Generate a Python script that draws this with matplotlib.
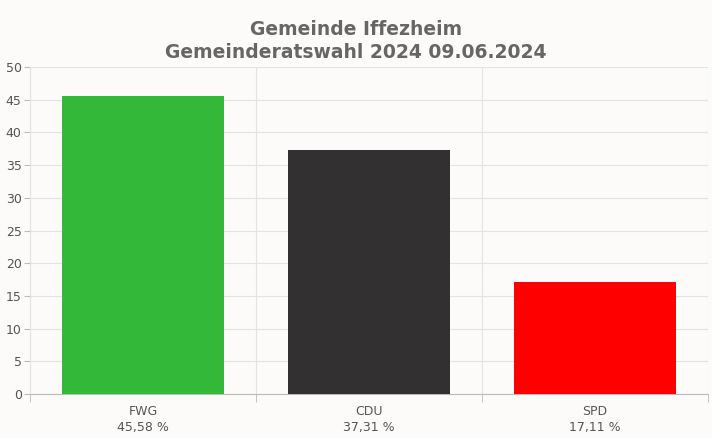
import matplotlib
matplotlib.use("Agg")
import matplotlib.pyplot as plt
import numpy as np

parties = ["FWG", "CDU", "SPD"]
values = [45.58, 37.31, 17.11]
colors = ["#33b83a", "#323030", "#ff0000"]
labels = ["FWG\n45,58 %", "CDU\n37,31 %", "SPD\n17,11 %"]

bg = "#fcfbfa"
fig = plt.figure(figsize=(7.12, 4.38), dpi=100, facecolor=bg)
ax = fig.add_axes([30/712, 44/438, 678/712, 327/438], facecolor=bg)
x = np.arange(len(parties))
ax.bar(x, values, width=0.72, color=colors, zorder=3)
ax.set_xlim(-0.5, 2.5)
ax.set_ylim(0, 50)
ax.set_yticks(range(0, 51, 5))
ax.set_xticks(x)
ax.set_xticklabels(labels, fontsize=9, color="#555555", linespacing=1.3)
ax.set_xticks([-0.5, 0.5, 1.5, 2.5], minor=True)
ax.tick_params(axis="x", which="major", length=0, pad=8)
ax.tick_params(axis="x", which="minor", length=6, color="#bbbbbb")
ax.tick_params(axis="y", length=4, color="#bbbbbb", labelsize=9, labelcolor="#555555", pad=2)
ax.grid(axis="y", color="#e3e3e3", lw=0.8, zorder=0)
ax.grid(axis="x", which="minor", color="#e3e3e3", lw=0.8, zorder=0)
for s in ["top", "right"]:
    ax.spines[s].set_visible(False)
ax.spines["left"].set_color("#e3e3e3")
ax.spines["bottom"].set_color("#bbbbbb")
fig.text(0.5, 0.955, "Gemeinde Iffezheim\nGemeinderatswahl 2024 09.06.2024", ha="center", va="top",
         fontsize=13.5, fontweight="bold", color="#666666", linespacing=1.3)
fig.savefig("out.png", dpi=100, facecolor=bg)
